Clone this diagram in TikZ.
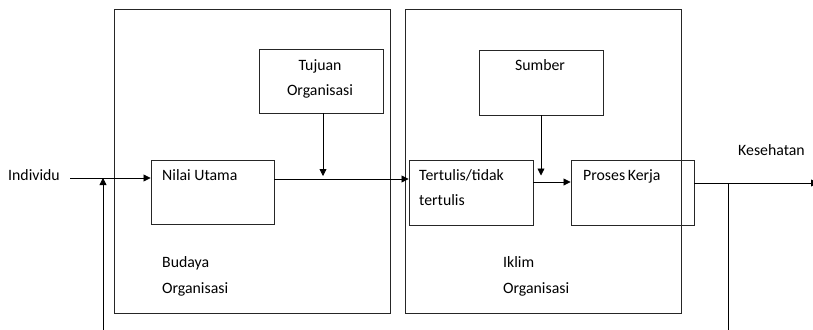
\documentclass[tikz,border=0pt]{standalone}
\usepackage{fontspec}
\setmainfont{Carlito}
\usetikzlibrary{arrows.meta}
\begin{document}
\begin{tikzpicture}[x=1pt,y=-1pt,
  box/.style={draw=black!85, line width=0.9pt, rectangle, inner sep=0pt},
  lbl/.style={inner sep=0pt, anchor=mid west, font=\fontsize{15.8}{18}\selectfont},
  clbl/.style={inner sep=0pt, anchor=mid, font=\fontsize{15.8}{18}\selectfont},
  conn/.style={draw=black, line width=0.8pt},
  arr/.style={conn, -{Triangle[length=7pt,width=7pt]}}]
\useasboundingbox (0,0) rectangle (813,329);
\clip (0,0) rectangle (813,329);

% outer frames
\node[box, minimum width=276pt, minimum height=304pt] (budaya) at (252,161.5) {};
\node[box, minimum width=276pt, minimum height=304pt] (iklim) at (543,161.5) {};

% inner boxes
\node[box, minimum width=124pt, minimum height=64pt] (tujuan) at (321,81) {};
\node[box, minimum width=124pt, minimum height=65pt] (sumber) at (541,82.5) {};
\node[box, minimum width=123pt, minimum height=64pt] (nilai) at (212.5,192) {};
\node[box, minimum width=124pt, minimum height=65pt] (tertulis) at (471,192.5) {};
\node[box, minimum width=123pt, minimum height=65pt] (proses) at (632.5,192.5) {};

% texts
\node[clbl] (tTujuan) at (320,68) {Tujuan};
\node[clbl] (tTujuanB) at (320,93) {Organisasi};
\node[clbl] (tSumber) at (540,68) {Sumber};
\node[lbl] (tNilai) at (162,178) {Nilai Utama};
\node[lbl] (tTertulis) at (419,178) {Tertulis/tidak};
\node[lbl] (tTertulisB) at (419,203) {tertulis};
\node[lbl] (tProses) at (583,178) {Proses\,Kerja};
\node[lbl] (tKes) at (738,153) {Kesehatan};
\node[lbl] (tInd) at (8,178) {Individu};
\node[lbl] (tBudaya) at (162,265) {Budaya};
\node[lbl] (tBudayaB) at (162,291) {Organisasi};
\node[lbl] (tIklim) at (503,265) {Iklim};
\node[lbl] (tIklimB) at (503,291) {Organisasi};

% junction points
\coordinate (in) at (70,178);
\coordinate (fb) at (103,335);
\coordinate (fbtop) at (103,178);
\coordinate (j1) at (323,179);
\coordinate (j1top) at (323,176);
\coordinate (j2) at (541,182);
\coordinate (j2top) at (541,175.5);
\coordinate (out) at (818,183);
\coordinate (tap) at (728,183);
\coordinate (tapend) at (728,335);

% connectors
\draw[arr] (in) -- (nilai.west |- in);
\draw[arr] (fb) -- (fbtop);
\draw[conn] (nilai.east |- j1) -- (j1);
\draw[arr] (j1) -- (tertulis.west |- j1);
\draw[arr] (tujuan.south -| j1) -- (j1top);
\draw[arr] (sumber.south -| j2) -- (j2top);
\draw[arr] (tertulis.east |- j2) -- (proses.west |- j2);
\draw[arr] (proses.east |- out) -- (out);
\draw[conn] (tap) -- (tapend);
\end{tikzpicture}
\end{document}
